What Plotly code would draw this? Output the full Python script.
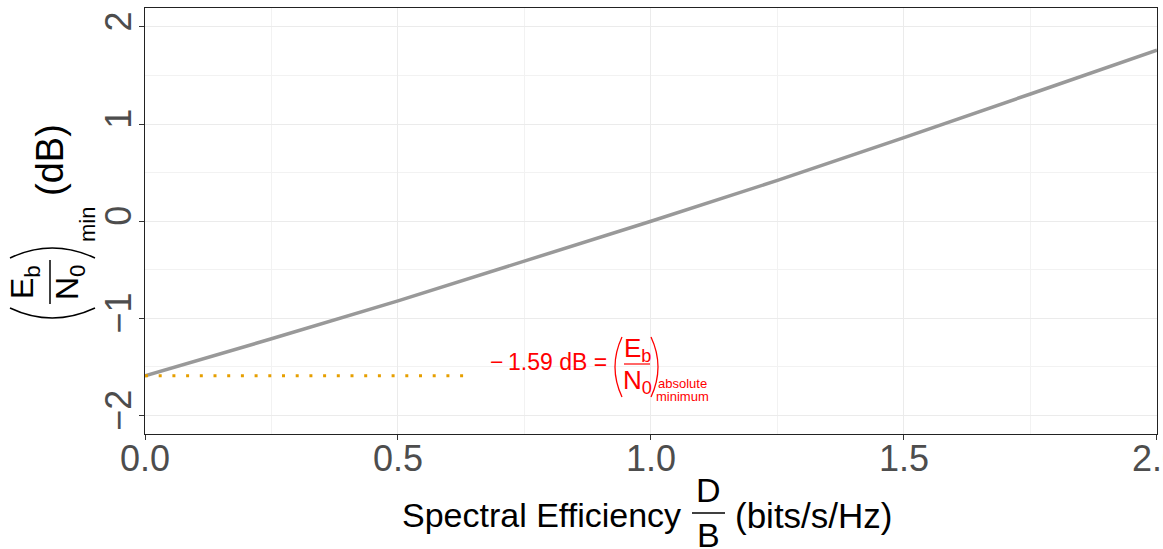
import plotly.graph_objects as go

# minimum Eb/N0 (dB), vs spectral efficiency D/B
rate = [0.0, 0.25, 0.5, 0.75, 1.0, 1.25, 1.5, 1.75, 2.0]
ebn0_db = [-1.59, -1.21, -0.82, -0.41, 0.0, 0.42, 0.86, 1.31, 1.76]

# dotted reference line at the Shannon limit
limit_x = [0.0, 0.63]
limit_y = [-1.59, -1.59]

x_ticks = [0, 0.5, 1.0, 1.5, 2.0]
x_ticktext = ['0.0', '0.5', '1.0', '1.5', '2.0']
y_ticks = [-2, -1, 0, 1, 2]
y_ticktext = ['\u22122', '\u22121', '0', '1', '2']

W, H = 1163, 549
L, R, T, B = 145, 1157, 8, 434
FONT = 'Liberation Sans, Arial, sans-serif'


def fx(px):
    return (px - L) / (R - L)


def fy(py):
    return (B - py) / (B - T)


fig = go.Figure()
fig.add_trace(go.Scatter(x=rate, y=ebn0_db, mode='lines',
                         line=dict(color='#999999', width=3.5), showlegend=False))
fig.add_trace(go.Scatter(x=limit_x, y=limit_y, mode='lines',
                         line=dict(color='#E69F00', width=3, dash='3px,10.7px'), showlegend=False))

ann = []
shapes = []


def text(s, x, y, size, color='black', angle=0, xanchor='center'):
    ann.append(dict(text=s, x=fx(x), y=fy(y), xref='paper', yref='paper', showarrow=False,
                    xanchor=xanchor, yanchor='middle', textangle=angle,
                    font=dict(family=FONT, size=size, color=color)))


def line(x0, y0, x1, y1, color='black', width=1.5):
    shapes.append(dict(type='line', xref='paper', yref='paper', x0=fx(x0), y0=fy(y0),
                       x1=fx(x1), y1=fy(y1), line=dict(color=color, width=width)))


def arc(x0, y0, cx, cy, x1, y1, color='black', width=1.5):
    path = f'M {fx(x0)},{fy(y0)} Q {fx(cx)},{fy(cy)} {fx(x1)},{fy(y1)}'
    shapes.append(dict(type='path', xref='paper', yref='paper', path=path,
                       line=dict(color=color, width=width)))


# red label: -1.59 dB = (Eb/N0) absolute minimum
red = '#FF0000'
text('\u2212\u20091.59 dB =', 609, 362, 23, red, xanchor='right')
text('E<sub>b</sub>', 637, 349, 26, red)
line(624, 364, 650, 364, red, 1.2)
text('N<sub>0</sub>', 637, 381, 26, red)
arc(622, 337, 608, 367, 622, 397, red, 1.3)
arc(651, 337, 665, 367, 651, 397, red, 1.3)
text('absolute', 682, 383, 13, red)
text('minimum', 682, 396, 13, red)

# x-axis title with D/B fraction
text('Spectral Efficiency', 683, 515, 34, xanchor='right')
text('D', 708, 490, 34)
line(692, 513, 725, 513, 'black', 1.3)
text('B', 708, 535, 34)
text('(bits/s/Hz)', 733, 515, 35, xanchor='left')

# y-axis title, rotated
text('(dB)', 50, 160, 38, angle=-90)
text('min', 87, 225, 22, angle=-90)
text('E<sub>b</sub>', 24, 282, 32, angle=-90)
line(50, 260, 50, 304, 'black', 1.5)
text('N<sub>0</sub>', 69, 282, 32, angle=-90)
arc(10, 258, 52, 238, 95, 258)
arc(10, 308, 52, 328, 95, 308)

fig.update_layout(annotations=ann, shapes=shapes)

axis_common = dict(showline=True, linecolor='#222222', linewidth=1.2, mirror=True,
                   ticks='outside', ticklen=5, tickcolor='#333333', tickwidth=1.2,
                   gridcolor='#EBEBEB', gridwidth=1.1, zeroline=False, automargin=False,
                   ticklabeloverflow='allow',
                   tickfont=dict(family=FONT, size=36, color='#4D4D4D'))

fig.update_xaxes(range=[0, 2.0001], tickvals=x_ticks, ticktext=x_ticktext, ticklabelstandoff=-12,
                 minor=dict(dtick=0.25, tick0=0, showgrid=True, gridcolor='#F2F2F2', gridwidth=0.8),
                 **axis_common)
fig.update_yaxes(range=[-2.19, 2.195], tickvals=y_ticks, ticktext=y_ticktext, tickangle=-90,
                 ticklabelstandoff=-6,
                 minor=dict(dtick=0.5, tick0=0, showgrid=True, gridcolor='#F2F2F2', gridwidth=0.8),
                 **axis_common)

fig.update_layout(template='none', width=W, height=H, autosize=False,
                  margin=dict(l=L, r=W - R, t=T, b=H - B),
                  plot_bgcolor='white', paper_bgcolor='white',
                  font=dict(family=FONT))

fig.write_html('out.html', config={'displayModeBar': False},
               post_script="document.body.style.margin='0';")
